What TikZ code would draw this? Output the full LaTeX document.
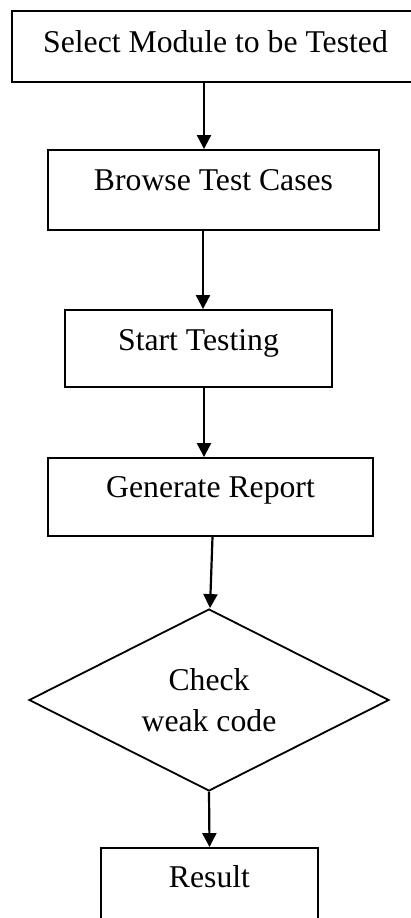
\documentclass[tikz,border=0pt]{standalone}
\usepackage{fontspec}
\setmainfont{Liberation Serif}
\usetikzlibrary{arrows.meta,shapes.geometric}
\begin{document}
\begin{tikzpicture}[x=1pt,y=-1pt,
  every node/.style={font=\fontsize{31.7}{41}\selectfont},
  procbox/.style={draw,line width=1.9pt,rectangle,inner sep=0pt,anchor=base},
  decision/.style={draw,line width=1.8pt,diamond,inner sep=0pt,align=center,
    aspect=1.98,minimum width=360pt,minimum height=182pt},
  flow/.style={line width=2.2pt,-{Triangle[length=14pt,width=14pt]}}]
\useasboundingbox (0,0) rectangle (411,918);
\clip (0,0) rectangle (411,918);

\node[procbox,minimum width=407pt,text height=41pt,text depth=30pt]
  (sel) at (215.5,52) {Select Module to be Tested};
\node[procbox,minimum width=331pt,text height=40pt,text depth=40pt]
  (browse) at (213.5,190) {Browse Test Cases};
\node[procbox,minimum width=267pt,text height=40pt,text depth=37pt]
  (start) at (198.5,350) {Start Testing};
\node[procbox,minimum width=325pt,text height=39pt,text depth=39pt]
  (report) at (210.5,497) {Generate Report};
\node[decision] (check) at (209,700) {Check\\weak code};
\node[procbox,minimum width=217pt,text height=39pt,text depth=40pt]
  (result) at (209.5,887) {Result};

\draw[flow] ([xshift=-11.5pt]sel.south) -- ([xshift=-9.5pt]browse.north);
\draw[flow] ([xshift=-10.5pt]browse.south) -- ([xshift=4.5pt]start.north);
\draw[flow] ([xshift=5.5pt]start.south) -- ([xshift=-6.5pt]report.north);
\draw[flow] ([xshift=2pt]report.south) -- ([xshift=1pt]check.north);
\draw[flow] (check.south) -- (result.north);
\end{tikzpicture}
\end{document}
